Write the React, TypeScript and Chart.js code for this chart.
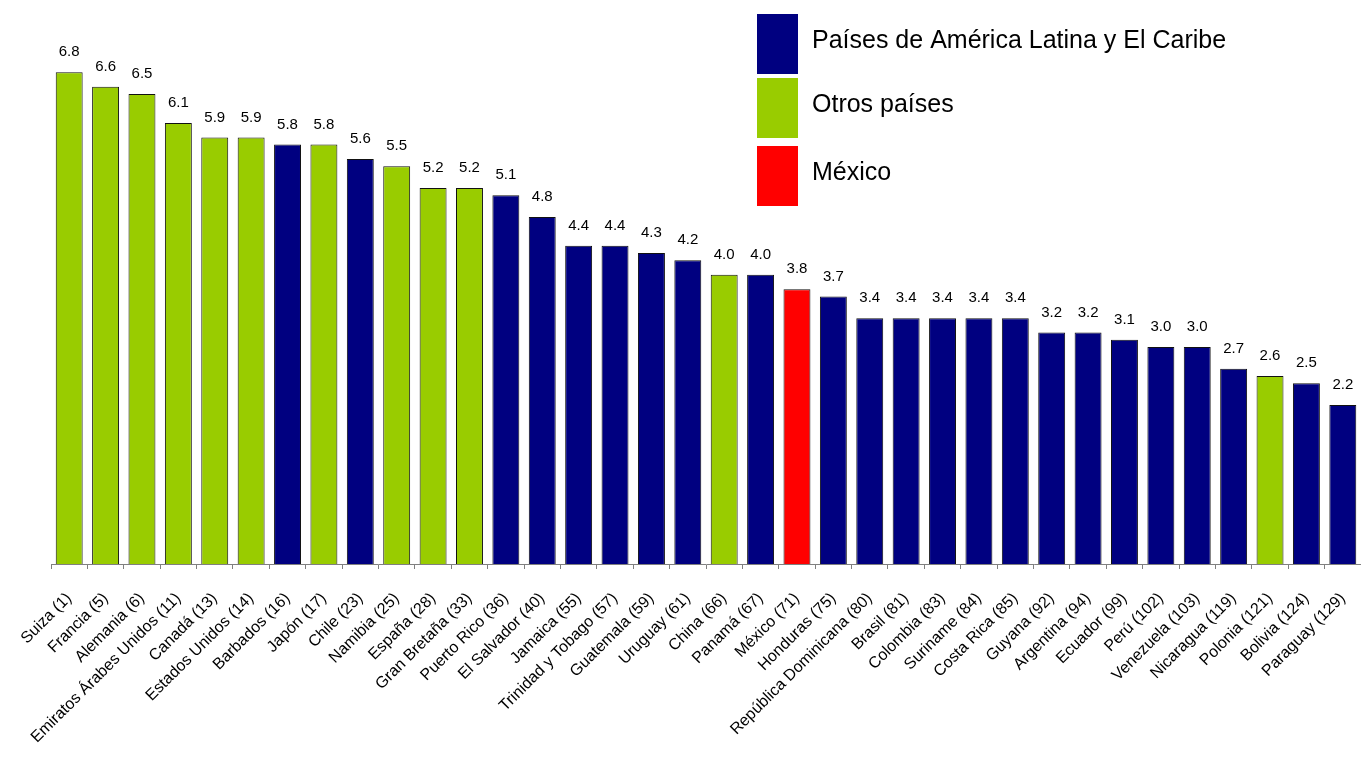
import React, { useEffect, useRef } from "react";
import { Chart, registerables } from "chart.js";

Chart.register(...registerables);

const countries = [
  "Suiza (1)", "Francia (5)", "Alemania (6)", "Emiratos Árabes Unidos (11)", "Canadá (13)",
  "Estados Unidos (14)", "Barbados (16)", "Japón (17)", "Chile (23)", "Namibia (25)",
  "España (28)", "Gran Bretaña (33)", "Puerto Rico (36)", "El Salvador (40)", "Jamaica (55)",
  "Trinidad y Tobago (57)", "Guatemala (59)", "Uruguay (61)", "China (66)", "Panamá (67)",
  "México (71)", "Honduras (75)", "República Dominicana (80)", "Brasil (81)", "Colombia (83)",
  "Suriname (84)", "Costa Rica (85)", "Guyana (92)", "Argentina (94)", "Ecuador (99)",
  "Perú (102)", "Venezuela (103)", "Nicaragua (119)", "Polonia (121)", "Bolivia (124)",
  "Paraguay (129)",
];

const scores = [
  6.8, 6.6, 6.5, 6.1, 5.9, 5.9, 5.8, 5.8, 5.6, 5.5, 5.2, 5.2, 5.1, 4.8, 4.4, 4.4, 4.3, 4.2,
  4.0, 4.0, 3.8, 3.7, 3.4, 3.4, 3.4, 3.4, 3.4, 3.2, 3.2, 3.1, 3.0, 3.0, 2.7, 2.6, 2.5, 2.2,
];

// L = América Latina y El Caribe, O = Otros países, M = México
const groups = [
  "O", "O", "O", "O", "O", "O", "L", "O", "L", "O", "O", "O", "L", "L", "L", "L", "L", "L",
  "O", "L", "M", "L", "L", "L", "L", "L", "L", "L", "L", "L", "L", "L", "L", "O", "L", "L",
];

const legendLabels = ["Países de América Latina y El Caribe", "Otros países", "México"];
const legendKeys = ["L", "O", "M"];
const groupColors: Record<string, string> = { L: "#000080", O: "#99CC00", M: "#FF0000" };

const FONT = "'Liberation Sans', Arial, sans-serif";

const valueLabels = {
  id: "valueLabels",
  afterDatasetsDraw(chart: any) {
    const ctx = chart.ctx;
    const meta = chart.getDatasetMeta(0);
    ctx.save();
    ctx.font = `15px ${FONT}`;
    ctx.fillStyle = "#000";
    ctx.textAlign = "center";
    ctx.textBaseline = "middle";
    meta.data.forEach((bar: any, i: number) => {
      ctx.fillText(scores[i].toFixed(1), bar.x, bar.y - 20);
    });
    ctx.restore();
  },
};

const boxLegend = {
  id: "boxLegend",
  afterDraw(chart: any) {
    const ctx = chart.ctx;
    ctx.save();
    ctx.font = `25px ${FONT}`;
    ctx.textBaseline = "middle";
    ctx.textAlign = "left";
    const tops = [14, 78, 146];
    legendKeys.forEach((k, i) => {
      ctx.fillStyle = groupColors[k];
      ctx.fillRect(757, tops[i], 41, 60);
      ctx.fillStyle = "#000";
      ctx.fillText(legendLabels[i], 812, tops[i] + 27);
    });
    ctx.restore();
  },
};

export default function App() {
  const ref = useRef<HTMLCanvasElement>(null);
  useEffect(() => {
    document.body.style.margin = "0";
    const chart = new Chart(ref.current!, {
      type: "bar",
      data: {
        labels: countries,
        datasets: [
          {
            data: scores,
            backgroundColor: groups.map((g) => groupColors[g]),
            borderColor: "#111111",
            borderWidth: 1,
            categoryPercentage: 1,
            barPercentage: 0.74,
          },
        ],
      },
      options: {
        animation: false,
        responsive: false,
        maintainAspectRatio: false,
        layout: { padding: { top: 0, left: 0, right: 0, bottom: 0 } },
        plugins: { legend: { display: false }, tooltip: { enabled: false } },
        scales: {
          x: {
            afterFit(scale: any) {
              scale.height = 204;
              scale.paddingLeft = 51;
              scale.paddingRight = 0;
            },
            grid: {
              offset: true,
              drawOnChartArea: false,
              drawTicks: true,
              tickLength: 5,
              color: "#808080",
            },
            border: { display: true, color: "#808080", width: 1 },
            ticks: {
              minRotation: 45,
              maxRotation: 45,
              autoSkip: false,
              font: { family: FONT, size: 16 },
              color: "#000",
              padding: 20,
            },
          },
          y: {
            display: false,
            min: 0,
            max: 7.8,
          },
        },
      },
      plugins: [valueLabels, boxLegend],
    });
    return () => chart.destroy();
  }, []);
  return (
    <div style={{ position: "absolute", left: 0, top: 0, width: 1361, height: 768 }}>
      <canvas ref={ref} width={1361} height={768} style={{ width: 1361, height: 768 }} />
    </div>
  );
}
